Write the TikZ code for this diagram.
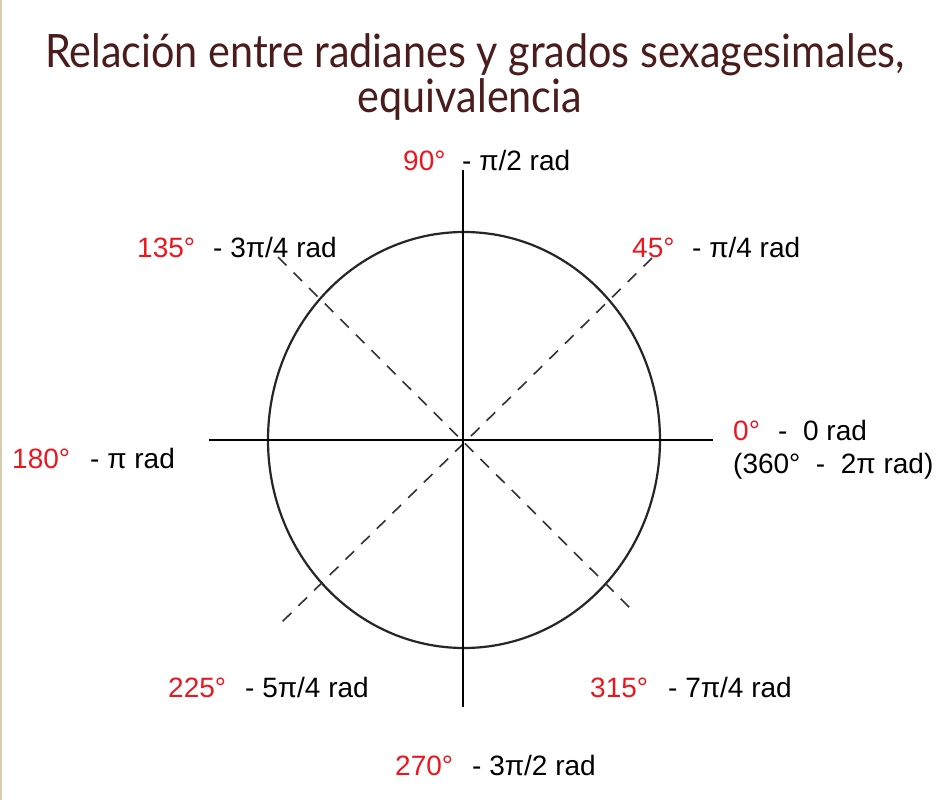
\documentclass[tikz,border=0pt]{standalone}
\usepackage{fontspec}
\setmainfont{Liberation Sans}
\newfontfamily\titlefont{Lato}
\definecolor{titlebrown}{RGB}{74,28,28}
\definecolor{lblred}{RGB}{238,22,30}
\definecolor{edgetan}{RGB}{218,204,176}
\newsavebox\titleboxA
\begin{document}
\sbox\titleboxA{\color{titlebrown}\titlefont\fontsize{46}{55}\selectfont Relación entre radianes y grados sexagesimales,}%
\pgfmathsetmacro\tsx{860/\the\wd\titleboxA}%
\begin{tikzpicture}[x=1pt,y=-1pt,
  lbl/.style={anchor=base west, inner sep=0pt, font=\fontsize{28}{34}\selectfont},
  deg/.style={lbl, text=lblred},
  axisline/.style={line width=2pt, black},
  rim/.style={line width=2.2pt, black!85},
  diag/.style={line width=1.6pt, black!80, dash pattern=on 12pt off 10pt},
  titletext/.style={anchor=base, inner sep=0pt, text=titlebrown}]
\useasboundingbox (0,0) rectangle (950,800);
\fill[white] (0,0) rectangle (950,800);
\fill[edgetan] (0,0) rectangle (2,800);
% title
\node[titletext] (title1) at (475,67) {\scalebox{\tsx}[1]{\usebox\titleboxA}};
\node[titletext] (title2) at (470,112) {\scalebox{\tsx}[1]{\titlefont\fontsize{46}{55}\selectfont equivalencia}};
% geometry
\coordinate (O) at (463,440);
\coordinate (L) at (209,440);
\coordinate (R) at (713,440);
\coordinate (T) at (463,170);
\coordinate (B) at (463,707);
\coordinate (NW) at (278,257);
\coordinate (SE) at (634,612);
\coordinate (NE) at (652,258);
\coordinate (SW) at (281,623);
\draw[rim] (464,440) ellipse [x radius=196, y radius=208];
\draw[diag] (NW) -- (SE);
\draw[diag] (NE) -- (SW);
\draw[axisline] (L) -- (R);
\draw[axisline] (T) -- (B);
% labels
\node[deg] (d90) at (403,170) {90°};
\node[lbl] (r90) at (462,170) {- π/2 rad};
\node[deg] (d135) at (137,257) {135°};
\node[lbl] (r135) at (213,257) {- 3π/4 rad};
\node[deg] (d45) at (632,257) {45°};
\node[lbl] (r45) at (692,257) {- π/4 rad};
\node[deg] (d180) at (12,468) {180°};
\node[lbl] (r180) at (90,468) {- π rad};
\node[deg] (d0) at (733,440) {0°};
\node[lbl] (r0) at (778,440) {-\ \ 0 rad};
\node[lbl] (r360) at (733,473) {(360°\ \ -\ \ 2π rad)};
\node[deg] (d225) at (168,697) {225°};
\node[lbl] (r225) at (245,697) {- 5π/4 rad};
\node[deg] (d315) at (590,697) {315°};
\node[lbl] (r315) at (668,697) {- 7π/4 rad};
\node[deg] (d270) at (395,775) {270°};
\node[lbl] (r270) at (472,775) {- 3π/2 rad};
\end{tikzpicture}
\end{document}
